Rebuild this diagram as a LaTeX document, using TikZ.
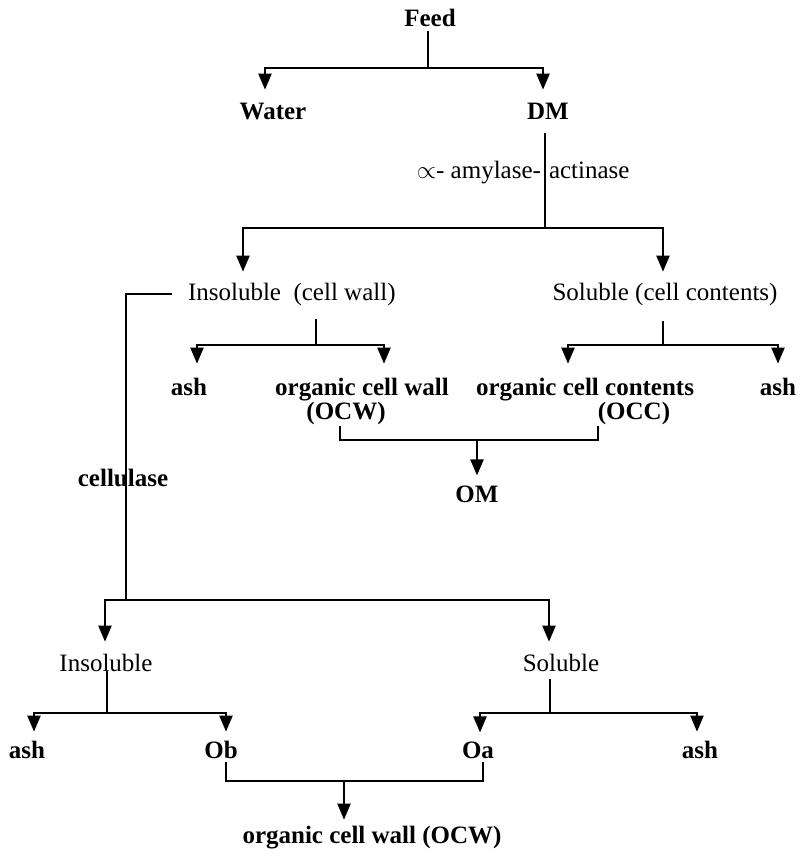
\documentclass[tikz,border=0pt]{standalone}
\usepackage{fontspec}
\setmainfont{Liberation Serif}
\usetikzlibrary{arrows.meta,calc}
\begin{document}
\begin{tikzpicture}[x=1pt,y=-1pt,
  every node/.style={inner sep=0pt, outer sep=0pt, font=\fontsize{25}{29}\selectfont},
  lb/.style={font=\fontsize{25}{29}\selectfont\bfseries},
  ln/.style={line width=2.2pt},
  arr/.style={line width=2.2pt, -{Triangle[width=13pt,length=16pt]}},
]
\useasboundingbox (0,0) rectangle (804,849);

% ---------- nodes ----------
\node[lb,anchor=base] (feed)  at (430,26)  {Feed};
\node[lb,anchor=base] (water) at (273,119) {Water};
\node[lb,anchor=base] (dm)    at (548,119) {DM};
\node[anchor=base east] (enzA) at (541,178) {$\propto$- amylase-};
\node[anchor=base west] (enzB) at (549,178) {actinase};
\node[anchor=base west] (insA) at (188,300) {Insoluble~ (cell wall)};
\node[anchor=base] (solA) at (665,300) {Soluble (cell contents)};
\node[lb,anchor=base] (ash1) at (189,395) {ash};
\node[lb,anchor=base] (ocw1) at (362,395) {organic cell wall};
\node[lb,anchor=base] (ocw2) at (346,419) {(OCW)};
\node[lb,anchor=base] (occ1) at (585,395) {organic cell contents};
\node[lb,anchor=base] (occ2) at (634,419) {(OCC)};
\node[lb,anchor=base] (ash2) at (778,395) {ash};
\node[lb,anchor=base] (om)   at (477,502) {OM};
\node[lb,anchor=base] (cell) at (123,486) {cellulase};
\node[anchor=base] (insB) at (106,671) {Insoluble};
\node[anchor=base] (solB) at (561,671) {Soluble};
\node[lb,anchor=base] (ash3) at (27,758)  {ash};
\node[lb,anchor=base] (ob)   at (221,758) {Ob};
\node[lb,anchor=base] (oa)   at (478,758) {Oa};
\node[lb,anchor=base] (ash4) at (700,758) {ash};
\node[lb,anchor=base] (fin)  at (372,843) {organic cell wall (OCW)};

% ---------- junction coordinates ----------
\coordinate (t0) at (428,68);  \coordinate (tL) at (265,68);  \coordinate (tR) at (543,68);
\coordinate (e0) at (545,228); \coordinate (eL) at (243,228); \coordinate (eR) at (663,228);
\coordinate (i0) at (316,345); \coordinate (iL) at (197,345); \coordinate (iR) at (384,345);
\coordinate (s0) at (663,345); \coordinate (sL) at (568,345); \coordinate (sR) at (778,345);
\coordinate (bL) at (340,440); \coordinate (bR) at (598,440); \coordinate (b0) at (477,440);
\coordinate (cB) at (126,600);
\coordinate (dL) at (105,600); \coordinate (dR) at (549,600);
\coordinate (g0) at (107,713); \coordinate (gL) at (34,713);  \coordinate (gR) at (226,713);
\coordinate (h0) at (550,713); \coordinate (hL) at (480,713); \coordinate (hR) at (697,713);
\coordinate (kL) at (226,781); \coordinate (kR) at (483,781); \coordinate (k0) at (344,781);

% ---------- connectors ----------
\draw[ln] ($(feed.south -| t0)+(0,5)$) -- (t0);
\draw[arr] (t0) -- (tL) -- ($(tL |- water.north)+(0,-13)$);
\draw[arr] (t0) -- (tR) -- ($(tR |- dm.north)+(0,-13)$);

\draw[ln] ($(dm.south -| e0)+(0,14)$) -- (e0);
\draw[arr] (e0) -- (eL) -- ($(eL |- insA.north)+(0,-11)$);
\draw[arr] (e0) -- (eR) -- ($(eR |- solA.north)+(0,-11)$);

\draw[ln] ($(insA.south -| i0)+(0,14)$) -- (i0);
\draw[arr] (i0) -- (iL) -- ($(iL |- ash1.north)+(0,-14)$);
\draw[arr] (i0) -- (iR) -- ($(iR |- ocw1.north)+(0,-14)$);

\draw[ln] ($(solA.south -| s0)+(0,16)$) -- (s0);
\draw[arr] (s0) -- (sL) -- ($(sL |- occ1.north)+(0,-14)$);
\draw[arr] (s0) -- (sR) -- ($(sR |- ash2.north)+(0,-14)$);

\draw[ln] ($(ocw2.south -| bL)+(0,2)$) -- (bL) -- (bR) -- ($(occ2.south -| bR)+(0,2)$);
\draw[arr] (b0) -- ($(b0 |- om.north)+(0,-10)$);

\draw[ln] ($(insA.west)+(-16,0)$) -| (cB);
\draw[arr] (cB) -- (dL) -- ($(dL |- insB.north)+(0,-12)$);
\draw[arr] (cB) -- (dR) -- ($(dR |- solB.north)+(0,-12)$);

\draw[ln] (insB.south -| g0) -- (g0);
\draw[arr] (g0) -- (gL) -- ($(gL |- ash3.north)+(0,-9)$);
\draw[arr] (g0) -- (gR) -- ($(gR |- ob.north)+(0,-9)$);

\draw[ln] ($(solB.south -| h0)+(0,8)$) -- (h0);
\draw[arr] (h0) -- (hL) -- ($(hL |- oa.north)+(0,-9)$);
\draw[arr] (h0) -- (hR) -- ($(hR |- ash4.north)+(0,-9)$);

\draw[ln] ($(ob.south -| kL)+(0,4)$) -- (kL) -- (kR) -- ($(oa.south -| kR)+(0,4)$);
\draw[arr] (k0) -- ($(k0 |- fin.north)+(0,-6)$);
\end{tikzpicture}
\end{document}
